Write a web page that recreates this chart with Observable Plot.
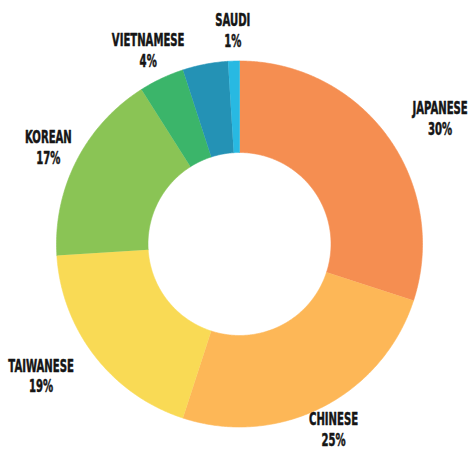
<!DOCTYPE html>
<html>
<head>
<meta charset="utf-8">
<script src="https://cdn.jsdelivr.net/npm/d3@7"></script>
<script src="https://cdn.jsdelivr.net/npm/@observablehq/plot@0.6"></script>
<style>
  html, body { margin: 0; padding: 0; background: #fff; }
  #chart svg { display: block; }
</style>
</head>
<body>
<div id="chart"></div>
<script>
// ---- data ----
const categories = ["JAPANESE", "CHINESE", "TAIWANESE", "KOREAN", "VIETNAMESE", "OTHER", "SAUDI"];
const shares     = [30, 25, 19, 17, 4, 4, 1];
const shownLabels = ["JAPANESE", "CHINESE", "TAIWANESE", "KOREAN", "VIETNAMESE", "", "SAUDI"];
const sliceColors = ["#F58E51", "#FDB757", "#F9DA55", "#8AC455", "#3BB56A", "#2492B5", "#28B9E2"];

// ---- geometry (unit = outer radius) ----
const inner = 0.5;
const labelRadius = 1.172;
const labelShiftX = {JAPANESE: 0.148, TAIWANESE: -0.158};
const labelShiftR = {CHINESE: -0.04};
const total = d3.sum(shares);
const step = Math.PI / 360;

const polys = [];
const labelRows = [];
let acc = 0;
categories.forEach((name, i) => {
  const a0 = acc / total * 2 * Math.PI;
  acc += shares[i];
  const a1 = acc / total * 2 * Math.PI;
  const n = Math.max(2, Math.ceil((a1 - a0) / step));
  for (let k = 0; k <= n; k++) {
    const a = a0 + (a1 - a0) * k / n;
    polys.push({name, color: sliceColors[i], x: Math.sin(a), y: Math.cos(a)});
  }
  for (let k = n; k >= 0; k--) {
    const a = a0 + (a1 - a0) * k / n;
    polys.push({name, color: sliceColors[i], x: inner * Math.sin(a), y: inner * Math.cos(a)});
  }
  if (shownLabels[i]) {
    const m = (a0 + a1) / 2;
    const r = labelRadius + (labelShiftR[name] || 0);
    labelRows.push({
      text: shownLabels[i] + "\n" + shares[i] + "%",
      x: r * Math.sin(m) + (labelShiftX[name] || 0),
      y: r * Math.cos(m)
    });
  }
});

const chart = Plot.plot({
  width: 468,
  height: 452,
  margin: 0,
  style: {background: "#fff", overflow: "visible"},
  x: {domain: [-1, 1], range: [56, 422], axis: null},
  y: {domain: [-1, 1], range: [426.5, 60.5], axis: null},
  color: {type: "identity"},
  marks: [
    Plot.line(polys, {x: "x", y: "y", z: "name", fill: "color", stroke: "color", strokeWidth: 0.6, curve: "linear"}),
    Plot.text(labelRows, {
      x: "x", y: "y", text: "text",
      fontSize: 17, fontWeight: "bold", lineHeight: 1.22,
      fontFamily: "'Liberation Sans Narrow', 'DejaVu Sans Condensed', 'Liberation Sans', sans-serif",
      fill: "#151515", stroke: "#151515", strokeWidth: 0.5, textAnchor: "middle"
    })
  ]
});

chart.querySelectorAll('g[aria-label="text"] text').forEach(t => {
  const tr = t.getAttribute("transform") || "";
  t.setAttribute("transform", tr + " scale(0.66,1)");
});

document.getElementById("chart").appendChild(chart);
</script>
</body>
</html>
